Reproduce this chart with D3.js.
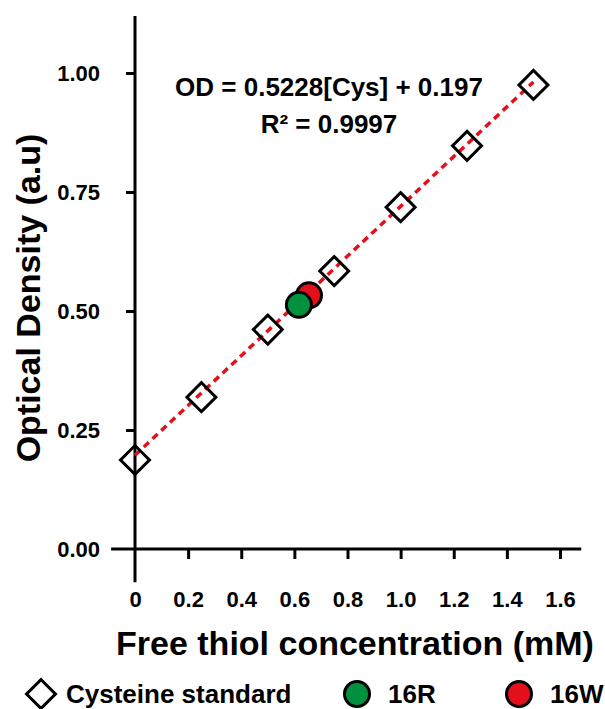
<!DOCTYPE html>
<html>
<head>
<meta charset="utf-8">
<script src="https://cdn.jsdelivr.net/npm/d3@7"></script>
<style>
  body { margin: 0; background: #fff; }
  text { font-family: "Liberation Sans", Arial, sans-serif; font-weight: bold; fill: #000; }
</style>
</head>
<body>
<div id="chart"></div>
<script>
const cysConc = [0, 0.25, 0.5, 0.75, 1.0, 1.25, 1.5];
const cysOD = [0.187, 0.319, 0.461, 0.584, 0.718, 0.847, 0.975];
const samples = [
    { name: "16W", conc: 0.655, od: 0.533, color: "#e3101b" },
    { name: "16R", conc: 0.617, od: 0.513, color: "#00913f" }
];
const fitSlope = 0.5228, fitIntercept = 0.197;
const xTicks = [0, 0.2, 0.4, 0.6, 0.8, 1.0, 1.2, 1.4, 1.6];
const yTicks = [0, 0.25, 0.5, 0.75, 1.0];

const width = 605, height = 709;

const svg = d3.select("#chart")
    .append("svg")
    .attr("width", width)
    .attr("height", height);

const x = d3.scaleLinear().domain([0, 1.6]).range([135, 560]);
const y = d3.scaleLinear().domain([0, 1]).range([549, 73]);

const yAxis = g => g
    .attr("transform", `translate(${x(0)},0)`)
    .call(d3.axisLeft(y).tickValues(yTicks).tickFormat(d3.format(".2f")).tickSize(9).tickPadding(26))
    .call(g => g.select(".domain").remove())
    .call(g => g.selectAll(".tick line").attr("stroke-width", 3))
    .call(g => g.selectAll(".tick text").attr("font-size", 22).attr("font-family", null));

const xAxis = g => g
    .attr("transform", `translate(0,${y(0)})`)
    .call(d3.axisBottom(x).tickValues(xTicks).tickFormat(d => d === 0 ? "0" : d3.format(".1f")(d)).tickSize(10).tickPadding(32))
    .call(g => g.select(".domain").remove())
    .call(g => g.selectAll(".tick line").attr("stroke-width", 3))
    .call(g => g.selectAll(".tick text").attr("font-size", 22).attr("font-family", null));

svg.append("g").call(yAxis);
svg.append("g").call(xAxis);
svg.selectAll(".tick").filter(d => d === 0).select("line").remove();

// axis lines (cross past origin)
svg.append("line")
    .attr("x1", x(0)).attr("x2", x(0))
    .attr("y1", y(1.12)).attr("y2", y(-0.07))
    .attr("stroke", "#000").attr("stroke-width", 3);
svg.append("line")
    .attr("x1", x(-0.09)).attr("x2", x(1.68))
    .attr("y1", y(0)).attr("y2", y(0))
    .attr("stroke", "#000").attr("stroke-width", 3);

// fit line
svg.append("line")
    .attr("x1", x(0)).attr("y1", y(fitIntercept))
    .attr("x2", x(1.5)).attr("y2", y(fitIntercept + fitSlope * 1.5))
    .attr("stroke", "#e3101b")
    .attr("stroke-width", 3.5)
    .attr("stroke-dasharray", "7,5");

const diamond = d3.symbol().type(d3.symbolSquare).size(420);

svg.selectAll(".std")
    .data(cysConc)
    .join("path")
    .attr("class", "std")
    .attr("d", diamond)
    .attr("transform", (d, i) => `translate(${x(d)},${y(cysOD[i])}) rotate(45)`)
    .attr("fill", "none")
    .attr("stroke", "#000")
    .attr("stroke-width", 3);

svg.selectAll(".sample")
    .data(samples)
    .join("circle")
    .attr("class", "sample")
    .attr("cx", d => x(d.conc))
    .attr("cy", d => y(d.od))
    .attr("r", 12.5)
    .attr("fill", d => d.color)
    .attr("stroke", "#000")
    .attr("stroke-width", 3);

// equation
svg.append("text")
    .attr("x", 329).attr("y", 96)
    .attr("text-anchor", "middle")
    .attr("font-size", 26)
    .text("OD = 0.5228[Cys] + 0.197");
svg.append("text")
    .attr("x", 329).attr("y", 133)
    .attr("text-anchor", "middle")
    .attr("font-size", 26)
    .text("R² = 0.9997");

// axis titles
svg.append("text")
    .attr("x", 355).attr("y", 655)
    .attr("text-anchor", "middle")
    .attr("font-size", 34)
    .text("Free thiol concentration (mM)");
svg.append("text")
    .attr("transform", "translate(40,298) rotate(-90)")
    .attr("text-anchor", "middle")
    .attr("font-size", 34)
    .text("Optical Density (a.u)");

// legend
const legend = svg.append("g");
legend.append("path")
    .attr("d", diamond)
    .attr("transform", "translate(41,694) rotate(45)")
    .attr("fill", "none")
    .attr("stroke", "#000")
    .attr("stroke-width", 3);
legend.append("text")
    .attr("x", 66).attr("y", 703)
    .attr("font-size", 26)
    .text("Cysteine standard");

const legendItems = [samples[1], samples[0]];
const legendX = [357, 519];
legendItems.forEach((d, i) => {
    legend.append("circle")
        .attr("cx", legendX[i]).attr("cy", 694)
        .attr("r", 12.5)
        .attr("fill", d.color)
        .attr("stroke", "#000")
        .attr("stroke-width", 3);
    legend.append("text")
        .attr("x", legendX[i] + 31).attr("y", 703)
        .attr("font-size", 26)
        .text(d.name);
});
</script>
</body>
</html>
